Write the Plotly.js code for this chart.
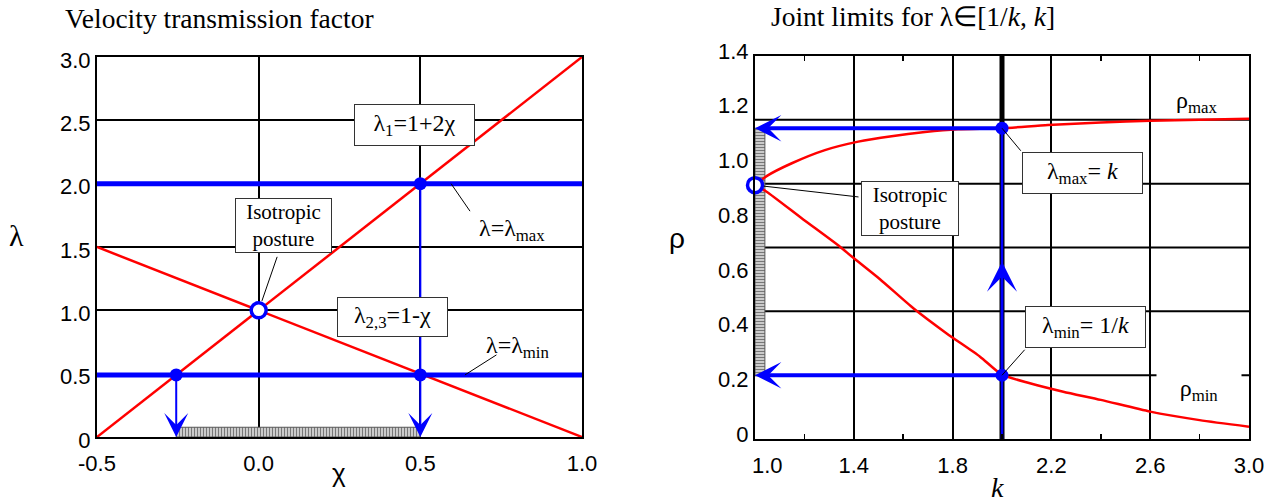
<!DOCTYPE html>
<html>
<head>
<meta charset="utf-8">
<script src="https://cdn.plot.ly/plotly-3.0.1.min.js"></script>
<style>
  html, body { margin: 0; padding: 0; background: #fff; }
  #chart { width: 1280px; height: 503px; }
</style>
</head>
<body>
<div id="chart"></div>
<script>
// ---- left panel: velocity transmission factor ----
const chiEnds = [-0.5, 1.0];
const lambda1 = [0, 3];       // 1 + 2χ
const lambda23 = [1.5, 0];    // 1 - χ
const lambdaMax = 2.0;
const lambdaMin = 0.49;
const chiDots = [0.5, -0.255, 0.5];
const lambdaDots = [2.0, 0.49, 0.49];
const isoChi = 0.0;
const isoLambda = 1.0;
const chiBand = [-0.255, 0.5];
const chiBandTop = 0.077;
const chiTicks = [-0.5, 0.0, 0.5, 1.0];
const chiTickText = ["-0.5", "0.0", "0.5", "1.0"];
const lambdaTicks = [0, 0.5, 1.0, 1.5, 2.0, 2.5, 3.0];
const lambdaTickText = ["0", "0.5", "1.0", "1.5", "2.0", "2.5", "3.0"];

// ---- right panel: joint limits ----
const kUpper = [1.0, 1.047, 1.149, 1.283, 1.418, 1.553, 1.688, 1.822, 2.0, 2.186, 2.4, 2.6, 3.0];
const rhoUpper = [0.928, 0.961, 1.008, 1.056, 1.087, 1.107, 1.122, 1.132, 1.136, 1.148, 1.157, 1.163, 1.171];
const kLower = [1.0, 1.047, 1.189, 1.344, 1.393, 1.506, 1.641, 1.776, 1.911, 2.0, 2.113, 2.248, 2.4, 2.6, 2.8, 3.0];
const rhoLower = [0.928, 0.904, 0.807, 0.703, 0.666, 0.584, 0.478, 0.386, 0.301, 0.235, 0.204, 0.173, 0.143, 0.1, 0.069, 0.045];
const kSel = 2.0;
const rhoSelMax = 1.136;
const rhoSelMin = 0.233;
const rhoArrowTip = 0.648;
const isoK = 1.0;
const isoRho = 0.928;
const kBand = [1.0, 1.04];
const kTicks = [1.0, 1.4, 1.8, 2.2, 2.6, 3.0];
const kTickText = ["\u2007\u20071.0", "1.4", "1.8", "2.2", "2.6", "3.0"];
const rhoTicks = [0, 0.2, 0.4, 0.6, 0.8, 1.0, 1.2, 1.4];
const rhoTickText = ["0", "0.2", "0.4", "0.6", "0.8", "1.0", "1.2", "1.4"];
const rhoGridSteps = 6;   // the right panel grid splits the height in 6, not on the ticks

const RED = "#ff0000";
const BLUE = "#0000ff";
const SERIF = "'Liberation Serif', 'Times New Roman', serif";
const SANS = "'Liberation Sans', Arial, sans-serif";

function line(x, y, xa, ya, color, width, smooth) {
  return { type: "scatter", mode: "lines", x: x, y: y, xaxis: xa, yaxis: ya,
    line: { color: color, width: width, shape: smooth ? "spline" : "linear", smoothing: 0.6 },
    hoverinfo: "skip" };
}

function band(x0, x1, y0, y1, xa, ya, shape) {
  return { type: "scatter", mode: "lines", xaxis: xa, yaxis: ya,
    x: [x0, x1, x1, x0, x0], y: [y0, y0, y1, y1, y0],
    fill: "toself", fillcolor: "#d8d8d8",
    fillpattern: { shape: shape, fgcolor: "#777", bgcolor: "#dcdcdc", size: 3, solidity: 0.45 },
    line: { color: "#555", width: 1 }, hoverinfo: "skip" };
}

function dots(x, y, xa, ya) {
  return { type: "scatter", mode: "markers", x: x, y: y, xaxis: xa, yaxis: ya, cliponaxis: false,
    marker: { color: BLUE, size: 13, line: { width: 0 } }, hoverinfo: "skip" };
}

function ring(x, y, xa, ya) {
  return { type: "scatter", mode: "markers", x: [x], y: [y], xaxis: xa, yaxis: ya, cliponaxis: false,
    marker: { color: "#fff", size: 15, line: { color: BLUE, width: 3.5 } }, hoverinfo: "skip" };
}

const traces = [
  // left
  band(chiBand[0], chiBand[1], 0, chiBandTop, "x", "y", "|"),
  line(chiEnds, lambda1, "x", "y", RED, 2.5),
  line(chiEnds, lambda23, "x", "y", RED, 2.5),
  line(chiEnds, [lambdaMax, lambdaMax], "x", "y", BLUE, 5),
  line(chiEnds, [lambdaMin, lambdaMin], "x", "y", BLUE, 5),
  dots(chiDots, lambdaDots, "x", "y"),
  ring(isoChi, isoLambda, "x", "y"),
  // right
  line([kSel, kSel], [0, 1.4], "x2", "y2", "#000", 5),
  line([kSel, kSel], [0, rhoSelMax], "x2", "y2", BLUE, 2.5),
  band(kBand[0], kBand[1], rhoSelMin, rhoSelMax, "x2", "y2", "-"),
  line(kUpper, rhoUpper, "x2", "y2", RED, 2.5, true),
  line(kLower, rhoLower, "x2", "y2", RED, 2.5, true),
  dots([kSel, kSel], [rhoSelMax, rhoSelMin], "x2", "y2"),
  ring(isoK, isoRho, "x2", "y2"),
];

function arrow(xa, ya, x0, y0, x1, y1, width, size) {
  return { xref: xa, yref: ya, axref: xa, ayref: ya, x: x1, y: y1, ax: x0, ay: y0,
    text: "", showarrow: true, arrowhead: 3, arrowwidth: width, arrowsize: size,
    arrowcolor: BLUE, standoff: 0 };
}

function leader(xa, ya, x, y, dx, dy, standoff) {
  return { xref: xa, yref: ya, x: x, y: y, ax: dx, ay: dy, text: "", showarrow: true,
    arrowhead: 0, arrowwidth: 1, arrowcolor: "#000", standoff: standoff || 0 };
}

function box(xa, ya, x, y, text, w, size, pad) {
  return { xref: xa, yref: ya, x: x, y: y, text: text, showarrow: false, width: w,
    font: { family: SERIF, size: size || 24, color: "#000" },
    bgcolor: "#fff", bordercolor: "#333", borderwidth: 1, borderpad: pad || 5 };
}

function label(xa, ya, x, y, text, font, size, xanchor) {
  return { xref: xa, yref: ya, x: x, y: y, text: text, showarrow: false,
    xanchor: xanchor || "center", yanchor: "middle",
    font: { family: font, size: size, color: "#000" } };
}

const annotations = [
  // left panel
  arrow("x", "y", chiDots[0], lambdaMax, chiDots[0], 0, 2, 2.0),
  arrow("x", "y", chiDots[1], lambdaMin, chiDots[1], 0, 2, 2.0),
  leader("x", "y", isoChi, isoLambda, 19, -55, 10),
  leader("x", "y", 0.595, lambdaMax, 20, 29),
  leader("x", "y", 0.638, lambdaMin, 33, -21),
  box("x", "y", 0.482, 2.467, "\u03bb<sub>1</sub>=1+2\u03c7", 109, 24, 5),
  box("x", "y", 0.077, 1.67, "Isotropic<br>posture", 93, 21, 1),
  box("x", "y", 0.414, 0.947, "\u03bb<sub>2,3</sub>=1-\u03c7", 101, 24, 4),
  label("x", "y", 0.784, 1.634, "\u03bb=\u03bb<sub>max</sub>", SERIF, 24),
  label("x", "y", 0.802, 0.711, "\u03bb=\u03bb<sub>min</sub>", SERIF, 24),
  // right panel
  arrow("x2", "y2", kSel, rhoSelMax, kBand[0], rhoSelMax, 4, 1.1),
  arrow("x2", "y2", kSel, rhoSelMin, kBand[0], rhoSelMin, 4, 1.1),
  arrow("x2", "y2", kSel, rhoSelMin, kSel, rhoArrowTip, 2.5, 2.0),
  leader("x2", "y2", kSel, rhoSelMax, 20, 24),
  leader("x2", "y2", isoK, isoRho, 105, 12, 9),
  leader("x2", "y2", kSel, rhoSelMin, 24, -27),
  box("x2", "y2", 2.324, 0.972, "\u03bb<sub>max</sub>= <i>k</i>", 109, 24, 5),
  box("x2", "y2", 1.628, 0.844, "Isotropic<br>posture", 94, 21, 1),
  box("x2", "y2", 2.338, 0.409, "\u03bb<sub>min</sub>= 1/<i>k</i>", 109, 24, 5),
  label("x2", "y2", 2.789, 1.232, "\u03c1<sub>max</sub>", SERIF, 24),
  Object.assign(label("x2", "y2", 2.798, 0.179, "\u03c1<sub>min</sub>", SERIF, 24),
    { bgcolor: "#fff", width: 72, borderpad: 6 }),
  // titles and axis names
  label("paper", "paper", 63 / 1280, 1 - 18 / 503, "Velocity transmission factor", SERIF, 27.5, "left"),
  label("paper", "paper", 769 / 1280, 1 - 17 / 503, "Joint limits for \u03bb\u2208[1/<i>k</i>, <i>k</i>]", SERIF, 27.5, "left"),
  label("paper", "paper", 16 / 1280, 1 - 235 / 503, "\u03bb", SERIF, 30),
  label("paper", "paper", 339 / 1280, 1 - 473 / 503, "\u03c7", SANS, 26),
  label("paper", "paper", 677 / 1280, 1 - 238 / 503, "\u03c1", SANS, 28),
  label("paper", "paper", 997 / 1280, 1 - 487 / 503, "<i>k</i>", SERIF, 28),
];

// horizontal grid of the right panel, evenly spaced over the plot height
const shapes = [];
for (let i = 1; i < rhoGridSteps; i++) {
  shapes.push({ type: "line", layer: "below", xref: "x2 domain", yref: "y2 domain",
    x0: 0, x1: 1, y0: i / rhoGridSteps, y1: i / rhoGridSteps,
    line: { color: "#000", width: 2 } });
}

const axisBase = {
  showline: true, linecolor: "#000", linewidth: 2, mirror: true,
  showgrid: true, gridcolor: "#000", gridwidth: 2, zeroline: false,
  ticks: "", tickfont: { family: SANS, size: 22, color: "#000" }, fixedrange: true,
};

const layout = {
  width: 1280, height: 503,
  margin: { l: 0, r: 0, t: 0, b: 0 },
  paper_bgcolor: "#fff", plot_bgcolor: "#fff",
  showlegend: false, hovermode: false,
  font: { family: SANS, size: 22, color: "#000" },
  xaxis: Object.assign({}, axisBase, {
    domain: [97 / 1280, 582 / 1280], range: chiEnds, anchor: "y",
    tickmode: "array", tickvals: chiTicks, ticktext: chiTickText, ticklabelstandoff: 6,
  }),
  yaxis: Object.assign({}, axisBase, {
    domain: [1 - 437 / 503, 1 - 57 / 503], range: [0, 3], anchor: "x",
    tickmode: "array", tickvals: lambdaTicks, ticktext: lambdaTickText, ticklabelshift: 3,
  }),
  xaxis2: Object.assign({}, axisBase, {
    domain: [755 / 1280, 1249 / 1280], range: [1, 3], anchor: "y2", mirror: "allticks",
    tickmode: "array", tickvals: kTicks, ticktext: kTickText, ticklabelstandoff: 6,
    minor: { tick0: 1.2, dtick: 0.4, ticks: "inside", ticklen: 5, tickwidth: 1.5, tickcolor: "#000", showgrid: false },
  }),
  yaxis2: Object.assign({}, axisBase, {
    domain: [1 - 439 / 503, 1 - 56 / 503], range: [0, 1.4], anchor: "x2",
    tickmode: "array", tickvals: rhoTicks, ticktext: rhoTickText, showgrid: false, ticklabelshift: -5,
  }),
  shapes: shapes,
  annotations: annotations,
};

Plotly.newPlot("chart", traces, layout, { displayModeBar: false, staticPlot: true });
</script>
</body>
</html>
